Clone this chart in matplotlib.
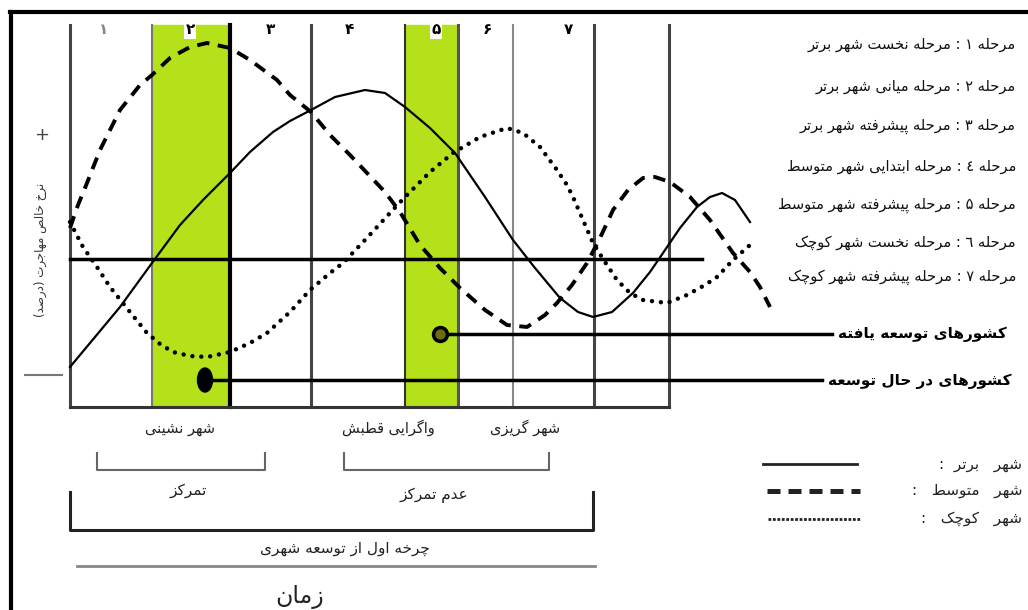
import matplotlib
matplotlib.use('Agg')
import matplotlib.pyplot as plt
from matplotlib.patches import Rectangle, Ellipse

# Persian text -> presentation forms, right-to-left order (matplotlib does no shaping)
FORMS = {
    'آ': (0xFE81, 0xFE82), 'ا': (0xFE8D, 0xFE8E), 'ب': (0xFE8F, 0xFE90, 0xFE91, 0xFE92),
    'پ': (0xFB56, 0xFB57, 0xFB58, 0xFB59), 'ت': (0xFE95, 0xFE96, 0xFE97, 0xFE98),
    'ث': (0xFE99, 0xFE9A, 0xFE9B, 0xFE9C), 'ج': (0xFE9D, 0xFE9E, 0xFE9F, 0xFEA0),
    'چ': (0xFB7A, 0xFB7B, 0xFB7C, 0xFB7D), 'ح': (0xFEA1, 0xFEA2, 0xFEA3, 0xFEA4),
    'خ': (0xFEA5, 0xFEA6, 0xFEA7, 0xFEA8), 'د': (0xFEA9, 0xFEAA), 'ذ': (0xFEAB, 0xFEAC),
    'ر': (0xFEAD, 0xFEAE), 'ز': (0xFEAF, 0xFEB0), 'ژ': (0xFB8A, 0xFB8B),
    'س': (0xFEB1, 0xFEB2, 0xFEB3, 0xFEB4), 'ش': (0xFEB5, 0xFEB6, 0xFEB7, 0xFEB8),
    'ص': (0xFEB9, 0xFEBA, 0xFEBB, 0xFEBC), 'ض': (0xFEBD, 0xFEBE, 0xFEBF, 0xFEC0),
    'ط': (0xFEC1, 0xFEC2, 0xFEC3, 0xFEC4), 'ظ': (0xFEC5, 0xFEC6, 0xFEC7, 0xFEC8),
    'ع': (0xFEC9, 0xFECA, 0xFECB, 0xFECC), 'غ': (0xFECD, 0xFECE, 0xFECF, 0xFED0),
    'ف': (0xFED1, 0xFED2, 0xFED3, 0xFED4), 'ق': (0xFED5, 0xFED6, 0xFED7, 0xFED8),
    'ک': (0xFB8E, 0xFB8F, 0xFB90, 0xFB91), 'گ': (0xFB92, 0xFB93, 0xFB94, 0xFB95),
    'ل': (0xFEDD, 0xFEDE, 0xFEDF, 0xFEE0), 'م': (0xFEE1, 0xFEE2, 0xFEE3, 0xFEE4),
    'ن': (0xFEE5, 0xFEE6, 0xFEE7, 0xFEE8), 'و': (0xFEED, 0xFEEE),
    'ه': (0xFEE9, 0xFEEA, 0xFEEB, 0xFEEC), 'ی': (0xFBFC, 0xFBFD, 0xFBFE, 0xFBFF),
}
MIRROR = {'(': ')', ')': '('}


def fa(text):
    out = []
    for i, c in enumerate(text):
        if c not in FORMS:
            out.append(c)
            continue
        f = FORMS[c]
        prev = text[i - 1] if i > 0 else None
        nxt = text[i + 1] if i + 1 < len(text) else None
        jp = prev in FORMS and len(FORMS[prev]) == 4
        jn = len(f) == 4 and nxt in FORMS
        if jp and jn:
            g = f[3]
        elif jp:
            g = f[1]
        elif jn:
            g = f[2]
        else:
            g = f[0]
        out.append(chr(g))
    return ''.join(MIRROR.get(c, c) for c in reversed(out))


# ---- data (pixel-like units) ----
stage_edges = [70, 152, 230, 311, 405, 458, 513, 594, 669]
green_stages = [(152, 230), (405, 458)]
stage_nums = ['۱', '۲', '۳', '۴', '۵', '۶', '۷']
stage_num_x = [104, 190, 270, 349, 436, 487, 568]

phase_names = [
    'مرحله ۱ : مرحله نخست شهر برتر',
    'مرحله ۲ : مرحله میانی شهر برتر',
    'مرحله ۳ : مرحله پیشرفته شهر برتر',
    'مرحله ٤ : مرحله ابتدایی شهر متوسط',
    'مرحله ۵ : مرحله پیشرفته شهر متوسط',
    'مرحله ٦ : مرحله نخست شهر کوچک',
    'مرحله ۷ : مرحله پیشرفته شهر کوچک',
]

primate_x = [70, 95, 120, 152, 180, 203, 230, 250, 273, 290, 311, 335, 365, 385, 405, 430, 455,
             470, 485, 513, 535, 560, 578, 593, 612, 633, 650, 663, 680, 697, 710, 722, 735, 750]
primate_y = [367, 337, 307, 263, 225, 200, 173, 152, 132, 121, 110, 97, 90, 93, 107, 128, 153,
             175, 197, 240, 268, 298, 312, 317, 312, 293, 272, 253, 228, 207, 197, 193, 200, 222]

medium_x = [70, 78, 87, 100, 120, 140, 152, 170, 190, 207, 230, 250, 277, 290, 311, 330, 350, 367,
            385, 400, 420, 440, 460, 485, 507, 527, 545, 557, 572, 587, 600, 613, 628, 643, 655,
            670, 690, 710, 733, 750, 760, 770]
medium_y = [228, 205, 183, 150, 110, 85, 75, 58, 47, 43, 48, 60, 80, 95, 112, 135, 155, 173,
            192, 212, 245, 268, 288, 310, 325, 327, 315, 303, 285, 263, 238, 210, 190, 178, 177,
            182, 197, 220, 253, 272, 287, 307]

small_x = [70, 83, 97, 110, 130, 147, 160, 173, 190, 207, 230, 250, 267, 290, 310, 330, 343, 365,
           390, 405, 430, 453, 480, 507, 523, 540, 557, 567, 573, 583, 593, 605, 617, 630, 643,
           667, 687, 705, 717, 733, 750]
small_y = [222, 247, 267, 287, 312, 333, 344, 352, 356, 357, 352, 343, 333, 312, 290, 273, 263, 240,
           213, 197, 172, 153, 137, 128, 133, 147, 170, 185, 197, 220, 243, 262, 280, 293, 300,
           303, 295, 285, 277, 260, 245]

developed_pt = (440, 334)
developing_pt = (205, 380)

phase_labels = ['شهر نشینی', 'واگرایی قطبش', 'شهر گریزی']
legend_labels = ['شهر   برتر  :', 'شهر   متوسط   :', 'شهر   کوچک   :']

plt.rcParams['font.family'] = ['DejaVu Sans']

fig = plt.figure(figsize=(10.28, 6.10), dpi=100)
ax = fig.add_axes([0, 0, 1, 1])
ax.set_xlim(0, 1028)
ax.set_ylim(610, 0)
ax.axis('off')

# outer frame (top + left only visible)
ax.plot([10, 1028], [12, 12], color='black', lw=3)
ax.plot([11, 11], [12, 610], color='black', lw=3)

# green stages
for x0, x1 in green_stages:
    ax.add_patch(Rectangle((x0, 25), x1 - x0, 382, color='#b5e11b', zorder=1))

edge_style = [('#444', 2.2), ('#777', 1.5), ('black', 3), ('#444', 2.2), ('#333', 1.5),
              ('#555', 2.2), ('#888', 1.5), ('#444', 2.2), ('#444', 2.2)]
for x, (c, lw) in zip(stage_edges, edge_style):
    ax.plot([x, x], [25, 407], color=c, lw=lw, zorder=2)

ax.plot([70, 702], [259, 259], color='black', lw=2.5, zorder=2)
ax.plot([70, 669], [407, 407], color='#333', lw=2.2, zorder=2)

for i, (lab, x) in enumerate(zip(stage_nums, stage_num_x)):
    box = dict(fc='white', ec='none', pad=1) if i in (1, 4) else None
    ax.text(x, 30, lab, ha='center', va='center', fontsize=11, fontweight='bold',
            color='#888' if i == 0 else 'black', bbox=box, zorder=5)

# curves
ax.plot(primate_x, primate_y, color='black', lw=1.6, zorder=4)
ax.plot(medium_x, medium_y, color='black', lw=2.8, dashes=(3.2, 2.2), zorder=4)
ax.plot(small_x, small_y, color='black', lw=3.2, dashes=(0.01, 2.0),
        dash_capstyle='round', zorder=4)

# pointers
ax.plot([developed_pt[0], 832], [developed_pt[1]] * 2, color='black', lw=2.5, zorder=4)
ax.plot(*developed_pt, 'o', ms=10, mfc='#6b6b10', mec='black', mew=2.5, zorder=5)
ax.plot([developing_pt[0], 822], [developing_pt[1]] * 2, color='black', lw=2.5, zorder=4)
ax.add_patch(Ellipse(developing_pt, 15, 24, color='black', zorder=5))
ax.text(838, 334, fa('کشورهای توسعه یافته'), ha='left', va='center', fontsize=11,
        fontweight='bold')
ax.text(828, 381, fa('کشورهای در حال توسعه'), ha='left', va='center', fontsize=11,
        fontweight='bold')

# axis marks
ax.text(42, 135, '+', ha='center', va='center', fontsize=13, color='#444')
ax.plot([25, 62], [375, 375], color='#777', lw=1.5)
ax.text(40, 250, fa('نرخ خالص مهاجرت (درصد)'), rotation=90, ha='center', va='center',
        fontsize=8.5, color='#333')

# phase list
for name, y in zip(phase_names, [44, 86, 126, 166, 205, 243, 277]):
    ax.text(1016, y, fa(name), ha='right', va='center', fontsize=10.5, color='#111')

# bottom labels and brackets
for lab, x in zip(phase_labels, [180, 388, 525]):
    ax.text(x, 428, fa(lab), ha='center', va='center', fontsize=10.5, color='#222')
for x0, x1 in [(97, 265), (344, 549)]:
    ax.plot([x0, x0, x1, x1], [453, 470, 470, 453], color='#666', lw=1.5)
ax.text(188, 490, fa('تمرکز'), ha='center', va='center', fontsize=11, color='#222')
ax.text(434, 495, fa('عدم تمرکز'), ha='center', va='center', fontsize=11, color='#222')
ax.plot([70, 70, 593, 593], [492, 530, 530, 492], color='#222', lw=2.2)
ax.text(345, 549, fa('چرخه اول از توسعه شهری'), ha='center', va='center', fontsize=11,
        color='#222')
ax.plot([77, 595], [566, 566], color='#888', lw=2)
ax.text(300, 597, fa('زمان'), ha='center', va='center', fontsize=17, color='#222')

# line-type legend
ax.plot([763, 857], [464, 464], color='#222', lw=2)
ax.plot([767, 860], [491, 491], color='#222', lw=3.6, dashes=(2.6, 1.6))
ax.plot([768, 860], [519, 519], color='#222', lw=2, dashes=(1, 0.6))
for lab, y in zip(legend_labels, [464, 491, 519]):
    ax.text(1022, y, fa(lab), ha='right', va='center', fontsize=11, color='#222')

fig.savefig('out.png', dpi=100)
